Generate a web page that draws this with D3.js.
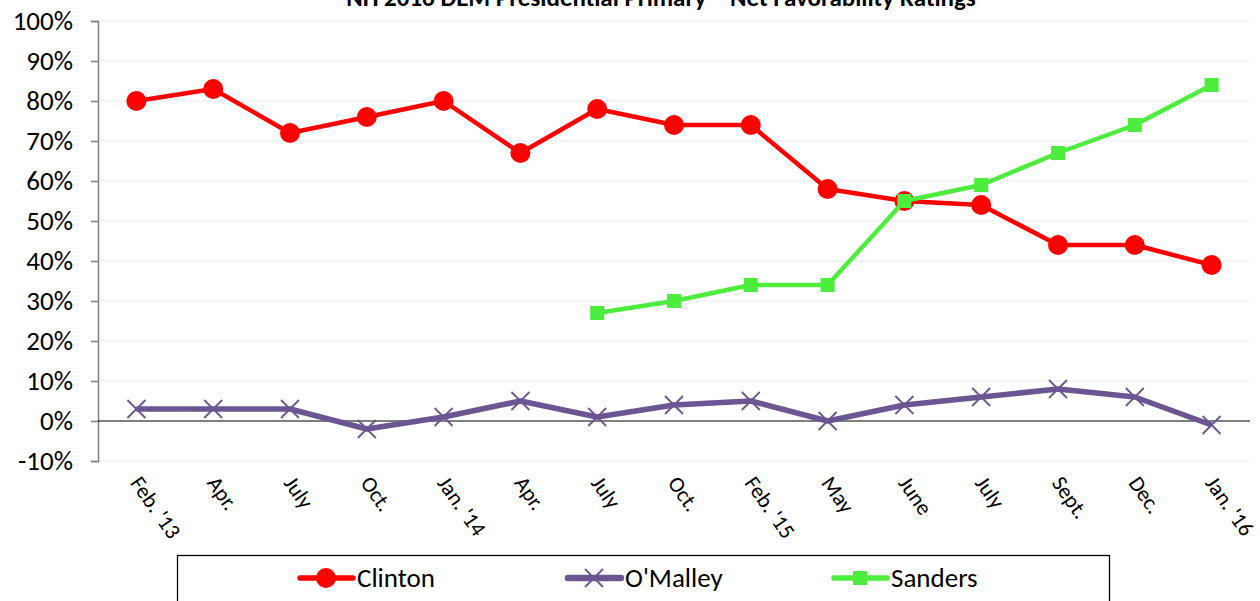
<!DOCTYPE html>
<html>
<head>
<meta charset="utf-8">
<script src="https://cdn.jsdelivr.net/npm/d3@7"></script>
<style>
  body { margin: 0; background: #fff; }
  svg { display: block; font-family: Carlito, Lato, "Open Sans", "Liberation Sans", sans-serif; }
</style>
</head>
<body>
<div id="chart"></div>
<script>
// Chart data
const categories = ["Feb. '13", "Apr.", "July", "Oct.", "Jan. '14", "Apr.", "July", "Oct.",
  "Feb. '15", "May", "June", "July", "Sept.", "Dec.", "Jan. '16"];
const clinton = [80, 83, 72, 76, 80, 67, 78, 74, 74, 58, 55, 54, 44, 44, 39];
const omalley = [3, 3, 3, -2, 1, 5, 1, 4, 5, 0, 4, 6, 8, 6, -1];
const sanders = [null, null, null, null, null, null, 27, 30, 34, 34, 55, 59, 67, 74, 84];
const yTicks = [-10, 0, 10, 20, 30, 40, 50, 60, 70, 80, 90, 100];
const title = "NH 2016 DEM Presidential Primary \u2013 Net Favorability Ratings";

const width = 1260, height = 601;
const margin = { left: 98, right: 10, top: 21, bottom: 140 };

const svg = d3.select("#chart").append("svg")
  .attr("width", width).attr("height", height);

// Scales
const x = d3.scaleBand()
  .domain(d3.range(categories.length))
  .range([margin.left, width - margin.right]);
const y = d3.scaleLinear()
  .domain([-10, 100])
  .range([height - margin.bottom, margin.top]);
const cx = (i) => x(i) + x.bandwidth() / 2;

// Gridlines
svg.append("g")
  .selectAll("line")
  .data(yTicks.filter((d) => d !== 0))
  .enter().append("line")
  .attr("x1", margin.left).attr("x2", width - margin.right)
  .attr("y1", (d) => y(d)).attr("y2", (d) => y(d))
  .attr("stroke", "#e6eaf2").attr("stroke-width", 1);

// Y axis
const yAxis = svg.append("g")
  .attr("transform", `translate(${margin.left},0)`)
  .call(d3.axisLeft(y).tickValues(yTicks).tickFormat((d) => d + "%").tickSize(7).tickPadding(18));
yAxis.select(".domain").attr("stroke", "#808080").attr("stroke-width", 1.5);
yAxis.selectAll(".tick line").attr("stroke", "#808080").attr("stroke-width", 1.5);
yAxis.selectAll(".tick text")
  .attr("font-size", 27).attr("fill", "#000")
  .attr("font-family", "Carlito, Lato, 'Open Sans', 'Liberation Sans', sans-serif");

// Zero line
svg.append("line")
  .attr("x1", margin.left).attr("x2", width - margin.right)
  .attr("y1", y(0)).attr("y2", y(0))
  .attr("stroke", "#000").attr("stroke-width", 1);

// X labels (rotated)
svg.append("g")
  .selectAll("text")
  .data(categories)
  .enter().append("text")
  .attr("transform", (d, i) => `translate(${cx(i) - 7},${y(-10) + 22}) rotate(55)`)
  .attr("font-size", 22)
  .attr("fill", "#000")
  .text((d) => d);

// Series
const series = [
  { name: "Clinton", values: clinton, color: "#ff0000", width: 4.5, marker: "circle" },
  { name: "O'Malley", values: omalley, color: "#6b5592", width: 5.5, marker: "cross" },
  { name: "Sanders", values: sanders, color: "#4ded3e", width: 4.5, marker: "square" },
];

const line = d3.line()
  .defined((d) => d != null)
  .x((d, i) => cx(i))
  .y((d) => y(d));

function drawMarker(g, type, color) {
  if (type === "circle") {
    g.append("circle").attr("r", 10).attr("fill", color);
  } else if (type === "square") {
    g.append("rect").attr("x", -7).attr("y", -7).attr("width", 14).attr("height", 14).attr("fill", color);
  } else {
    g.append("path").attr("d", "M-9,-9L9,9M-9,9L9,-9")
      .attr("stroke", color).attr("stroke-width", 1.8).attr("fill", "none");
  }
}

series.forEach((s) => {
  svg.append("path")
    .datum(s.values)
    .attr("d", line)
    .attr("fill", "none")
    .attr("stroke", s.color)
    .attr("stroke-width", s.width)
    .attr("stroke-linejoin", "round");

  s.values.forEach((v, i) => {
    if (v == null) return;
    const g = svg.append("g").attr("transform", `translate(${cx(i)},${y(v)})`);
    drawMarker(g, s.marker, s.color);
  });
});

// Title (sits at the very top edge, as in the original)
svg.append("text")
  .attr("x", 661).attr("y", 6)
  .attr("text-anchor", "middle")
  .attr("font-size", 25)
  .attr("font-weight", "bold")
  .text(title);

// Legend
const legend = svg.append("g");
legend.append("rect")
  .attr("x", 177.5).attr("y", 555.5)
  .attr("width", 932).attr("height", 60)
  .attr("fill", "#fff").attr("stroke", "#000").attr("stroke-width", 1.3);

const legendX = [300, 568, 834];
series.forEach((s, i) => {
  const g = legend.append("g").attr("transform", `translate(${legendX[i]},578)`);
  g.append("line")
    .attr("x1", 0).attr("x2", 53)
    .attr("stroke", s.color).attr("stroke-width", s.width + 1).attr("stroke-linecap", "round");
  const m = g.append("g").attr("transform", "translate(26,0)");
  drawMarker(m, s.marker, s.color);
  g.append("text")
    .attr("x", 57).attr("y", 9)
    .attr("font-size", 27)
    .text(s.name);
});
</script>
</body>
</html>
